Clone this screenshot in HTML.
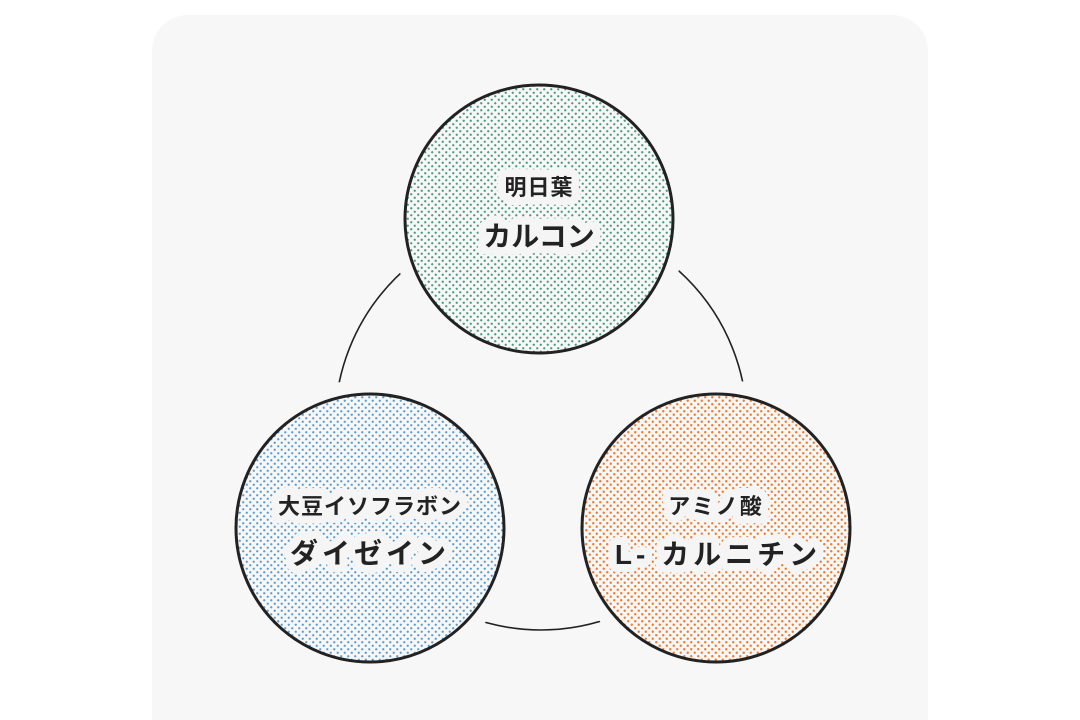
<!DOCTYPE html>
<html><head><meta charset="utf-8"><style>
html,body{margin:0;padding:0;background:#fff;}
svg{display:block;}
text{font-family:"Liberation Sans","Noto Sans CJK JP",sans-serif;font-weight:bold;fill:#222;text-anchor:middle;paint-order:stroke;stroke:#f5f5f5;stroke-width:16;stroke-linejoin:round;}
</style></head><body>
<svg width="1080" height="720" viewBox="0 0 1080 720" xmlns="http://www.w3.org/2000/svg">
<defs>
<pattern id="pg" width="7" height="7" patternUnits="userSpaceOnUse"><rect width="7" height="7" fill="#f7f7f7"/><circle cx="1.75" cy="1.75" r="1.15" fill="#4a9a7c"/><circle cx="5.25" cy="5.25" r="1.15" fill="#4a9a7c"/></pattern>
<pattern id="pb" width="7" height="7" patternUnits="userSpaceOnUse"><rect width="7" height="7" fill="#f7f7f7"/><circle cx="1.75" cy="1.75" r="1.15" fill="#5a9ccf"/><circle cx="5.25" cy="5.25" r="1.15" fill="#5a9ccf"/></pattern>
<pattern id="po" width="7" height="7" patternUnits="userSpaceOnUse"><rect width="7" height="7" fill="#f7f7f7"/><circle cx="1.75" cy="1.75" r="1.2" fill="#ee7d30"/><circle cx="5.25" cy="5.25" r="1.2" fill="#ee7d30"/></pattern>
</defs>
<rect x="152" y="15" width="776" height="740" rx="36" fill="#f7f7f7"/>
<circle cx="541" cy="424" r="206" fill="none" stroke="#222" stroke-width="1.6"/>
<circle cx="539" cy="219" r="149" fill="#f7f7f7"/>
<circle cx="370" cy="528" r="149" fill="#f7f7f7"/>
<circle cx="716" cy="528" r="149" fill="#f7f7f7"/>
<circle cx="539" cy="219" r="134" fill="url(#pg)" stroke="#222" stroke-width="3"/>
<circle cx="370" cy="528" r="134" fill="url(#pb)" stroke="#222" stroke-width="3"/>
<circle cx="716" cy="528" r="134" fill="url(#po)" stroke="#222" stroke-width="3"/>
<text x="539" y="195" font-size="22" letter-spacing="1">明日葉</text>
<text x="539" y="246" font-size="28">カルコン</text>
<text x="370" y="514" font-size="22" letter-spacing="1">大豆イソフラボン</text>
<text x="370" y="563" font-size="28" letter-spacing="4">ダイゼイン</text>
<text x="716" y="514" font-size="22" letter-spacing="2">アミノ酸</text>
<text x="718" y="564" font-size="28" letter-spacing="4">L- カルニチン</text>
</svg>
</body></html>
